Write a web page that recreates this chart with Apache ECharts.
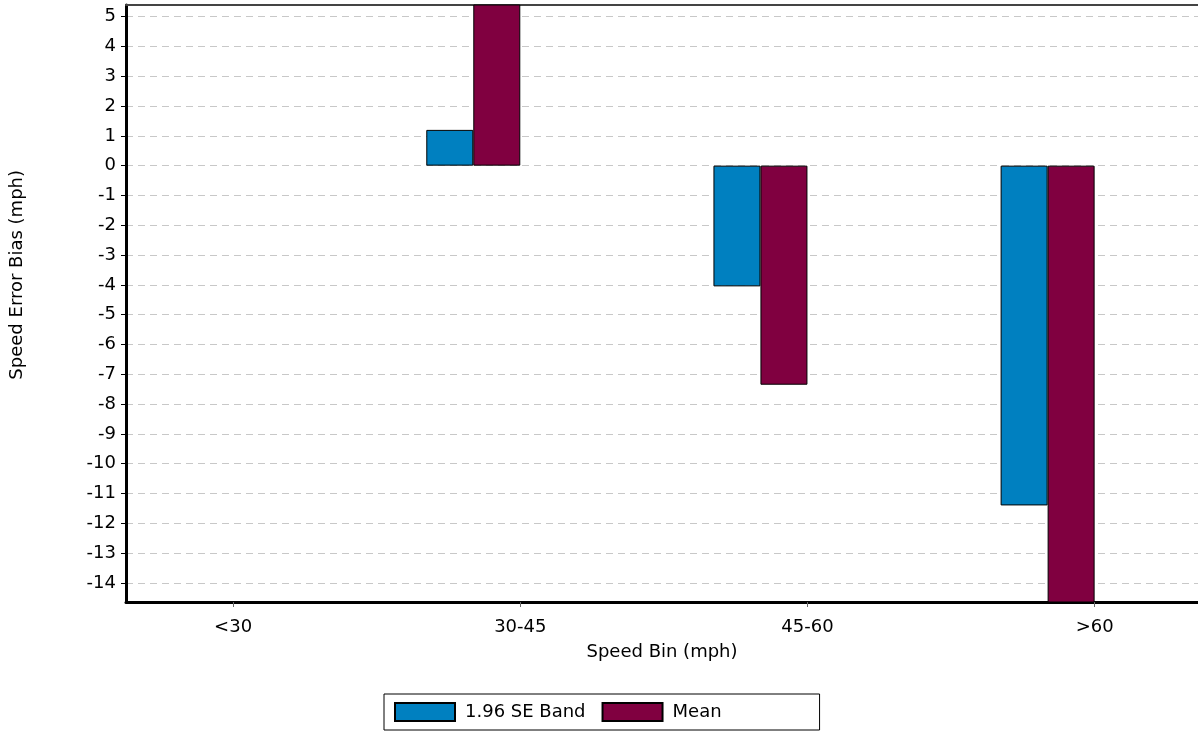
<!DOCTYPE html>
<html>
<head>
<meta charset="utf-8">
<script src="https://cdn.jsdelivr.net/npm/echarts@6/dist/echarts.min.js"></script>
<style>html,body{margin:0;padding:0;background:#fff}#c{width:1198px;height:731px}</style>
</head>
<body>
<div id="c"></div>
<script>
const categories = ['<30', '30-45', '45-60', '>60'];
const seBand = [null, 1.2, -4.05, -11.4];
const meanVals = [null, 6.5, -7.35, -16];
const yTicks = [5, 4, 3, 2, 1, 0, -1, -2, -3, -4, -5, -6, -7, -8, -9, -10, -11, -12, -13, -14];
const catIdx = [0, 1, 2, 3];

const FONT = 'DejaVu Sans';
const FS = 18;
const chart = echarts.init(document.getElementById('c'));
const toPts = arr => arr.map((v, i) => [i, v]);

chart.setOption({
  animation: false,
  backgroundColor: '#fff',
  textStyle: { fontFamily: FONT },
  grid: { left: 126, right: 0, top: 5, bottom: 129 },
  xAxis: [{
    type: 'value', min: -0.373, max: 3.36,
    name: 'Speed Bin (mph)', nameLocation: 'middle', nameGap: 41,
    nameTextStyle: { fontFamily: FONT, fontSize: FS, color: '#000' },
    axisLine: { show: true, onZero: false, lineStyle: { color: '#000', width: 3 } },
    axisTick: { show: true, customValues: catIdx, length: 5, lineStyle: { color: '#666' } },
    axisLabel: { customValues: catIdx, formatter: v => categories[Math.round(v)], margin: 16,
      fontFamily: FONT, fontSize: FS, color: '#000' },
    splitLine: { show: false }
  }, {
    type: 'value', position: 'top', min: -0.373, max: 3.36,
    axisLine: { show: true, onZero: false, lineStyle: { color: '#444', width: 2 } },
    axisTick: { show: false }, axisLabel: { show: false }, splitLine: { show: false }
  }],
  yAxis: {
    type: 'value', min: -14.64, max: 5.39,
    axisLine: { show: true, onZero: false, lineStyle: { color: '#000', width: 3 } },
    axisTick: { show: true, customValues: yTicks, length: 5, lineStyle: { color: '#000' } },
    axisLabel: { customValues: yTicks, margin: 10, fontFamily: FONT, fontSize: FS, color: '#000' },
    splitLine: { show: true, lineStyle: { color: '#c8c8c8', type: [7, 5], width: 1 } }
  },
  legend: {
    data: ['1.96 SE Band', 'Mean'],
    left: 384, top: 694,
    orient: 'horizontal',
    itemWidth: 60, itemHeight: 18, itemGap: 16,
    padding: [8, 98, 8, 10],
    borderColor: '#000', borderWidth: 1,
    icon: 'rect',
    textStyle: { fontFamily: FONT, fontSize: FS, color: '#000', padding: [0, 0, 0, 5] }
  },
  graphic: [{
    type: 'text', left: 8, top: 170, rotation: Math.PI / 2, originX: 0, originY: 0,
    style: { text: 'Speed Error Bias (mph)', fontFamily: FONT, fontSize: FS, fill: '#000' }
  }],
  series: [
    { name: '1.96 SE Band', type: 'bar', data: toPts(seBand), barWidth: 47, barGap: '0%',
      itemStyle: { color: '#0080C0', borderColor: '#000', borderWidth: 1 } },
    { name: 'Mean', type: 'bar', data: toPts(meanVals), barWidth: 47, barGap: '0%',
      itemStyle: { color: '#800040', borderColor: '#000', borderWidth: 1 } },
    { name: 'pad1', type: 'bar', data: toPts([null, null, null, null]), barWidth: 47, barGap: '0%' },
    { name: 'pad2', type: 'bar', data: toPts([null, null, null, null]), barWidth: 47, barGap: '0%' }
  ]
});
</script>
</body>
</html>
